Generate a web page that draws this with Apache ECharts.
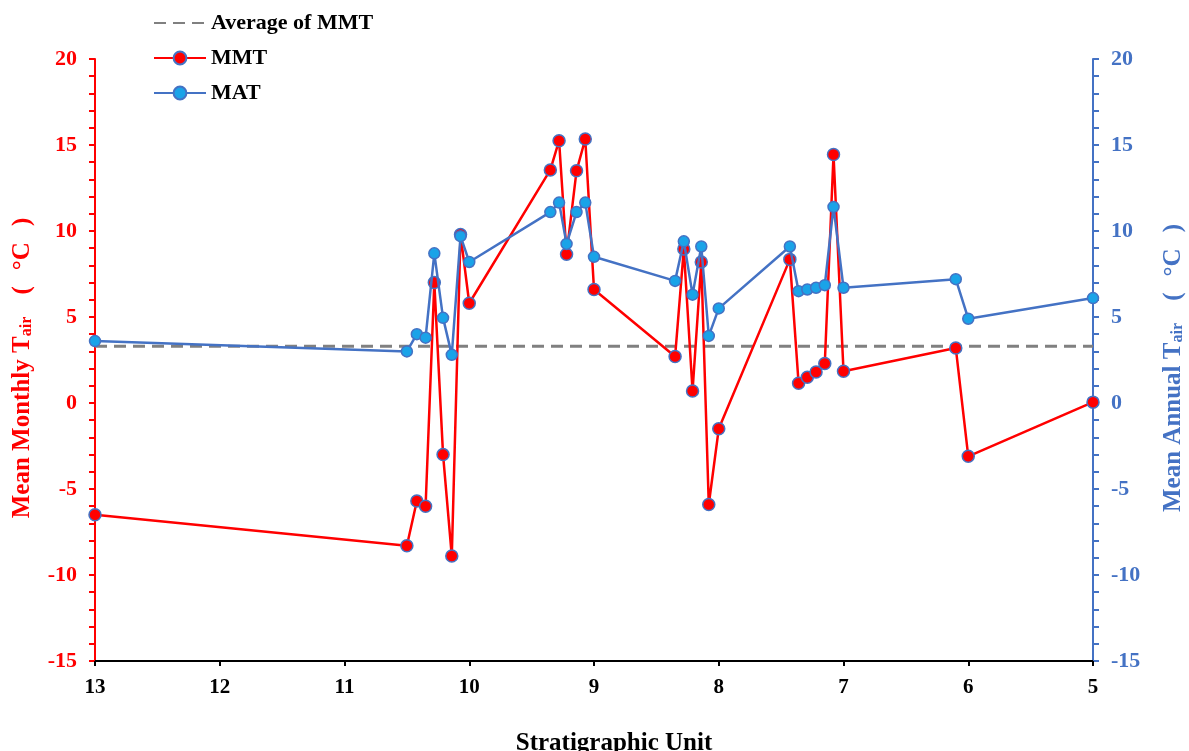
<!DOCTYPE html>
<html>
<head>
<meta charset="utf-8">
<script src="https://cdn.jsdelivr.net/npm/echarts@6/dist/echarts.min.js"></script>
<style>html,body{margin:0;padding:0;background:#fff}#c{width:1189px;height:751px}</style>
</head>
<body>
<div id="c"></div>
<script>
// Stratigraphic unit positions
const units = [13, 10.5, 10.42, 10.35, 10.28, 10.21, 10.14, 10.07, 10.0, 9.35, 9.28, 9.22, 9.14, 9.07, 9.0,
  8.35, 8.28, 8.21, 8.14, 8.08, 8.0, 7.43, 7.36, 7.29, 7.22, 7.15, 7.08, 7.0, 6.1, 6.0, 5.0];
// Mean Monthly air temperature (°C)
const mmt = [-6.5, -8.3, -5.7, -6.0, 7.0, -3.0, -8.9, 9.8, 5.8, 13.55, 15.25, 8.65, 13.5, 15.35, 6.6,
  2.7, 8.95, 0.7, 8.2, -5.9, -1.5, 8.35, 1.15, 1.5, 1.8, 2.3, 14.45, 1.85, 3.2, -3.1, 0.05];
// Mean Annual air temperature (°C)
const mat = [3.6, 3.0, 4.0, 3.8, 8.7, 4.95, 2.8, 9.7, 8.2, 11.1, 11.65, 9.25, 11.1, 11.65, 8.5,
  7.1, 9.4, 6.3, 9.1, 3.9, 5.5, 9.1, 6.5, 6.6, 6.7, 6.85, 11.4, 6.7, 7.2, 4.9, 6.1];
// Average of MMT
const avgMMT = 3.3;
const avgRange = [13, 5];

const font = '"Liberation Serif","Times New Roman",serif';
const red = '#FF0000', blue = '#4472C4', gray = '#808080';

function titleStyle(color) {
  return {
    fontFamily: font, fontWeight: 'bold', fontSize: 25, color: color,
    rich: {
      sub: {fontFamily: font, fontWeight: 'bold', fontSize: 16, color: color, verticalAlign: 'bottom', padding: [9, 0, 0, 0]},
      p: {fontFamily: font, fontWeight: 'bold', fontSize: 25, color: color, padding: [0, 16, 0, 16]}
    }
  };
}

const chart = echarts.init(document.getElementById('c'));
chart.setOption({
  animation: false,
  grid: {left: 95, right: 96, top: 59, bottom: 90, containLabel: false, outerBoundsMode: 'none'},
  legend: {
    orient: 'vertical', left: 148, top: 7, itemGap: 13, itemWidth: 52, itemHeight: 16,
    textStyle: {fontFamily: font, fontWeight: 'bold', fontSize: 22, color: '#000'},
    data: [{name: 'Average of MMT', itemStyle: {opacity: 0}}, 'MMT', 'MAT']
  },
  xAxis: {
    type: 'value', min: 5, max: 13, interval: 1, inverse: true,
    name: 'Stratigraphic Unit', nameLocation: 'middle', nameGap: 70,
    nameTextStyle: {fontFamily: font, fontWeight: 'bold', fontSize: 25, color: '#000', padding: [0, 0, 0, 40]},
    axisLine: {onZero: false, lineStyle: {color: '#000', width: 2}},
    axisTick: {show: true, length: 5, lineStyle: {color: '#000', width: 2}},
    axisLabel: {fontFamily: font, fontWeight: 'bold', fontSize: 21, color: '#000', margin: 16},
    splitLine: {show: false}
  },
  yAxis: [{
    type: 'value', min: -15, max: 20, interval: 5, position: 'left',
    name: 'Mean Monthly T{sub|air} {p|(}°C{p|)}', nameLocation: 'middle', nameGap: 60, nameRotate: 90,
    nameTextStyle: titleStyle(red),
    axisLine: {show: true, onZero: false, lineStyle: {color: red, width: 2}},
    axisTick: {show: true, length: 6, lineStyle: {color: red, width: 2}},
    minorTick: {show: true, splitNumber: 5, length: 6, lineStyle: {color: red, width: 2}},
    axisLabel: {fontFamily: font, fontWeight: 'bold', fontSize: 22, color: red, margin: 18},
    splitLine: {show: false}
  }, {
    type: 'value', min: -15, max: 20, interval: 5, position: 'right',
    name: 'Mean Annual T{sub|air} {p|(}°C{p|)}', nameLocation: 'middle', nameGap: 68, nameRotate: 90,
    nameTextStyle: titleStyle(blue),
    axisLine: {show: true, onZero: false, lineStyle: {color: blue, width: 2}},
    axisTick: {show: true, length: 6, lineStyle: {color: blue, width: 2}},
    minorTick: {show: true, splitNumber: 5, length: 6, lineStyle: {color: blue, width: 2}},
    axisLabel: {fontFamily: font, fontWeight: 'bold', fontSize: 22, color: blue, margin: 18},
    splitLine: {show: false}
  }],
  series: [{
    name: 'Average of MMT', type: 'line', yAxisIndex: 0, showSymbol: false, symbol: 'none',
    data: avgRange.map(u => [u, avgMMT]),
    lineStyle: {color: gray, width: 3, type: [12, 7]},
    itemStyle: {color: gray}, z: 1
  }, {
    name: 'MMT', type: 'line', yAxisIndex: 0, symbol: 'circle', symbolSize: 12,
    data: units.map((u, i) => [u, mmt[i]]),
    lineStyle: {color: red, width: 2.5},
    itemStyle: {color: red, borderColor: blue, borderWidth: 1.5}, z: 2
  }, {
    name: 'MAT', type: 'line', yAxisIndex: 1, symbol: 'circle', symbolSize: 11,
    data: units.map((u, i) => [u, mat[i]]),
    lineStyle: {color: blue, width: 2.5},
    itemStyle: {color: '#1AA3E8', borderColor: blue, borderWidth: 1.5}, z: 3
  }]
});
</script>
</body>
</html>
